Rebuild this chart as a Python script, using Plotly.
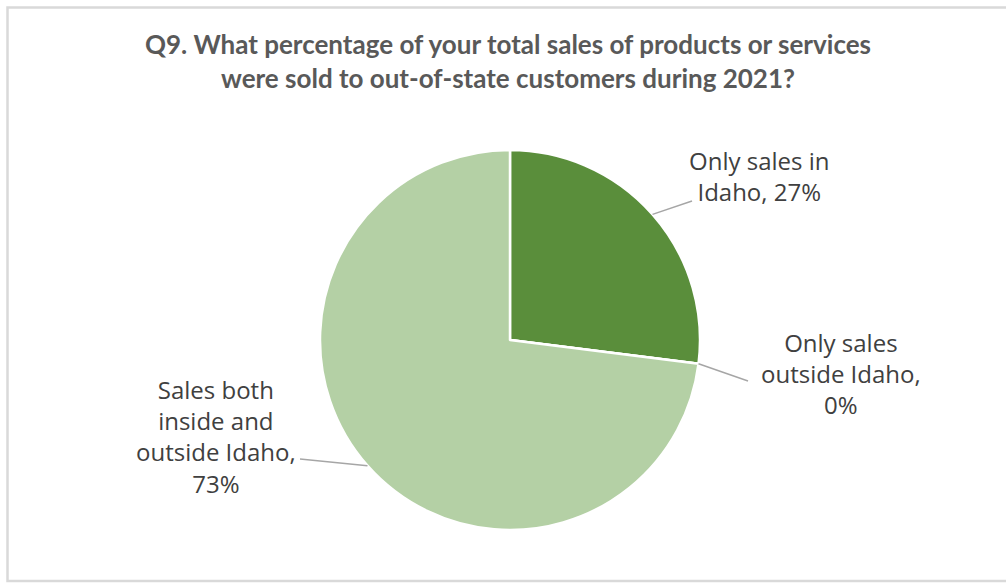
import math
import plotly.graph_objects as go

# Survey responses (share of respondents, %)
categories = ["Only sales in Idaho", "Only sales outside Idaho", "Sales both inside and outside Idaho"]
shares = [27, 0, 73]
label_text = ["Only sales in<br>Idaho, 27%", "Only sales<br>outside Idaho,<br>0%",
              "Sales both<br>inside and<br>outside Idaho,<br>73%"]
slice_colors = ["#5a8e3b", "#5a8e3b", "#b4d0a5"]

W, H = 1006, 584
CX, CY, R = 510, 340, 190  # pie centre and radius in pixels

fig = go.Figure(go.Pie(
    labels=categories,
    values=shares,
    sort=False,
    direction="clockwise",
    rotation=0,
    textinfo="none",
    hoverinfo="label+percent",
    marker=dict(colors=slice_colors, line=dict(color="white", width=2.5)),
    domain=dict(x=[(CX - R) / W, (CX + R) / W], y=[(H - CY - R) / H, (H - CY + R) / H]),
    showlegend=False,
))

# label anchors: (elbow x, elbow y, text centre x, text centre y)
label_layout = [
    (692, 201, 759, 176),
    (748, 381, 841, 373),
    (300, 459, 216, 436),
]

def px(x):
    return x / W

def py(y):
    return (H - y) / H

total = sum(shares)
cum = 0.0
shapes = []
annotations = []
for val, txt, (ex, ey, tx, ty) in zip(shares, label_text, label_layout):
    mid = (cum + val / 2) / total * 2 * math.pi
    cum += val
    sx = CX + R * math.sin(mid)
    sy = CY - R * math.cos(mid)
    shapes.append(dict(type="line", xref="paper", yref="paper",
                       x0=px(sx), y0=py(sy), x1=px(ex), y1=py(ey),
                       line=dict(color="#a6a6a6", width=1.5)))
    annotations.append(dict(text=txt, x=px(tx), y=py(ty), xref="paper", yref="paper",
                            xanchor="center", yanchor="middle", showarrow=False,
                            align="center",
                            font=dict(family="Open Sans", size=24, color="#404040")))

# outer chart frame
shapes.append(dict(type="rect", xref="paper", yref="paper",
                   x0=px(7.5), x1=px(1012), y0=py(581), y1=py(7.5),
                   line=dict(color="#d9d9d9", width=2.5)))

annotations.append(dict(
    text="<b>Q9. What percentage of your total sales of products or services<br>"
         "were sold to out-of-state customers during 2021?</b>",
    x=px(508), y=py(61), xref="paper", yref="paper", xanchor="center", yanchor="middle",
    showarrow=False, align="center",
    font=dict(family="Lato", size=26, color="#595959")))

fig.update_layout(
    width=W, height=H,
    margin=dict(l=0, r=0, t=0, b=0),
    paper_bgcolor="white",
    plot_bgcolor="white",
    shapes=shapes,
    annotations=annotations,
)

fig.write_html("out.html")
